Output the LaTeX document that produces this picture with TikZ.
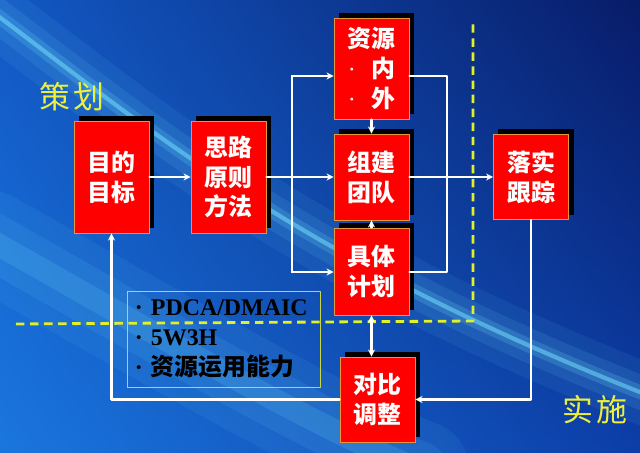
\documentclass[tikz,border=0pt]{standalone}
\usepackage{fontspec}
\setmainfont{Liberation Serif}
\newfontfamily\cjk{Noto Sans CJK SC}
\usetikzlibrary{arrows.meta,shadows,shadings}
\definecolor{bgTL}{RGB}{18,88,196}
\definecolor{bgTR}{RGB}{8,28,104}
\definecolor{bgBL}{RGB}{26,118,222}
\definecolor{bgBR}{RGB}{12,62,168}
\definecolor{glow}{RGB}{120,230,255}
\definecolor{dashyellow}{RGB}{226,240,40}
\definecolor{labelyellow}{RGB}{236,240,60}
\definecolor{frameyellow}{RGB}{200,215,70}
\definecolor{rim}{RGB}{232,150,60}
\newcommand{\pt}{{\rmfamily\mdseries ·}\hspace{11pt}}

\begin{document}
\begin{tikzpicture}[x=.025cm, y=-.025cm, line cap=round, line join=round]
  \tikzset{stepbox/.style={draw=rim, line width=.6pt, fill=red, text=white, font=\cjk\bfseries\fontsize{17}{21.3}\selectfont, align=center, minimum width=1.875cm, inner sep=0pt, drop shadow={fill=black, opacity=1, shadow xshift=.125cm, shadow yshift=.125cm}},
    link/.style={draw=white, line width=1.5pt},
    flow/.style={link, -{Stealth[length=5pt, width=5pt]}},
    phase/.style={draw=dashyellow, line width=2pt, dash pattern=on 6pt off 4pt, line cap=butt},
    stage/.style={text=labelyellow, font=\cjk\fontsize{22}{24}\selectfont}}

  % background
  \useasboundingbox (0,0) rectangle (640,453);
  \shade[upper left=bgTL, upper right=bgTR, lower left=bgBL, lower right=bgBR] (0,0) rectangle (640,453);
  \begin{scope}
    \clip (0,0) rectangle (640,453);
    \foreach \w/\o in {44/.07, 24/.1, 10/.18, 3/.5} {
      \draw[line width=\w pt, draw=glow, opacity=\o] (-10,10) .. controls (150,130) and (300,260) .. (660,400);
    }
    \foreach \w/\o in {70/.07, 40/.09, 16/.14} {
      \draw[line width=\w pt, draw=glow, opacity=\o] (-10,240) .. controls (150,330) and (300,420) .. (420,470);
    }
  \end{scope}

  % phases
  \draw[phase] (16,324) -- (473,321) -- (473,19);
  \node[stage] (lblplan) at (72,97) {策\hspace{2pt}划};
  \node[stage] (lbldo) at (595,410) {实\hspace{2pt}施};

  % boxes
  \node[stepbox, minimum height=2.8cm] (goal) at (111.5,177) {目的\\目标};
  \node[stepbox, minimum height=2.8cm] (idea) at (228.5,177) {思路\\原则\\方法};
  \node[stepbox, minimum height=2.525cm] (res) at (371.5,68.5) {资源\\\pt 内\\\pt 外};
  \node[stepbox, minimum height=2.15cm] (team) at (371.5,177) {组建\\团队};
  \node[stepbox, minimum height=2.175cm] (plan) at (371.5,271.5) {具体\\计划};
  \node[stepbox, minimum height=2.125cm] (check) at (377.5,399.5) {对比\\调整};
  \node[stepbox, minimum height=2.125cm] (track) at (531,177) {落实\\跟踪};
  \node[draw=frameyellow, line width=.6pt, text=black, align=left, text width=4.425cm, inner xsep=.2cm, minimum height=2.4cm, font=\bfseries\fontsize{17}{21.3}\selectfont] (tools) at (223.5,339) {·\ PDCA/DMAIC\\·\ 5W3H\\·\ {\cjk 资源运用能力}};

  % connectors
  \coordinate (forkT) at (292,76);
  \coordinate (forkB) at (292,272);
  \coordinate (loopT) at (447,76);
  \coordinate (loopB) at (447,272);
  \draw[flow] (goal) -- (idea);
  \draw[flow] (idea) -- (team);
  \draw[link] (forkT) -- (forkB);
  \draw[flow] (forkT) -- (forkT -| res.west);
  \draw[flow] (forkB) -- (forkB -| plan.west);
  \draw[flow] (res) -- (team);
  \draw[flow] (plan) -- (team);
  \draw[link] (loopT -| res.east) -- (loopT) -- (loopB) -- (loopB -| plan.east);
  \draw[flow] (team) -- (track);
  \draw[link, {Stealth[length=5pt, width=5pt]}-{Stealth[length=5pt, width=5pt]}] (plan.south) -- (plan.south |- check.north);
  \draw[flow] (track.south) |- (check.east);
  \draw[flow] (check.west) -| (goal.south);
\end{tikzpicture}
\end{document}
